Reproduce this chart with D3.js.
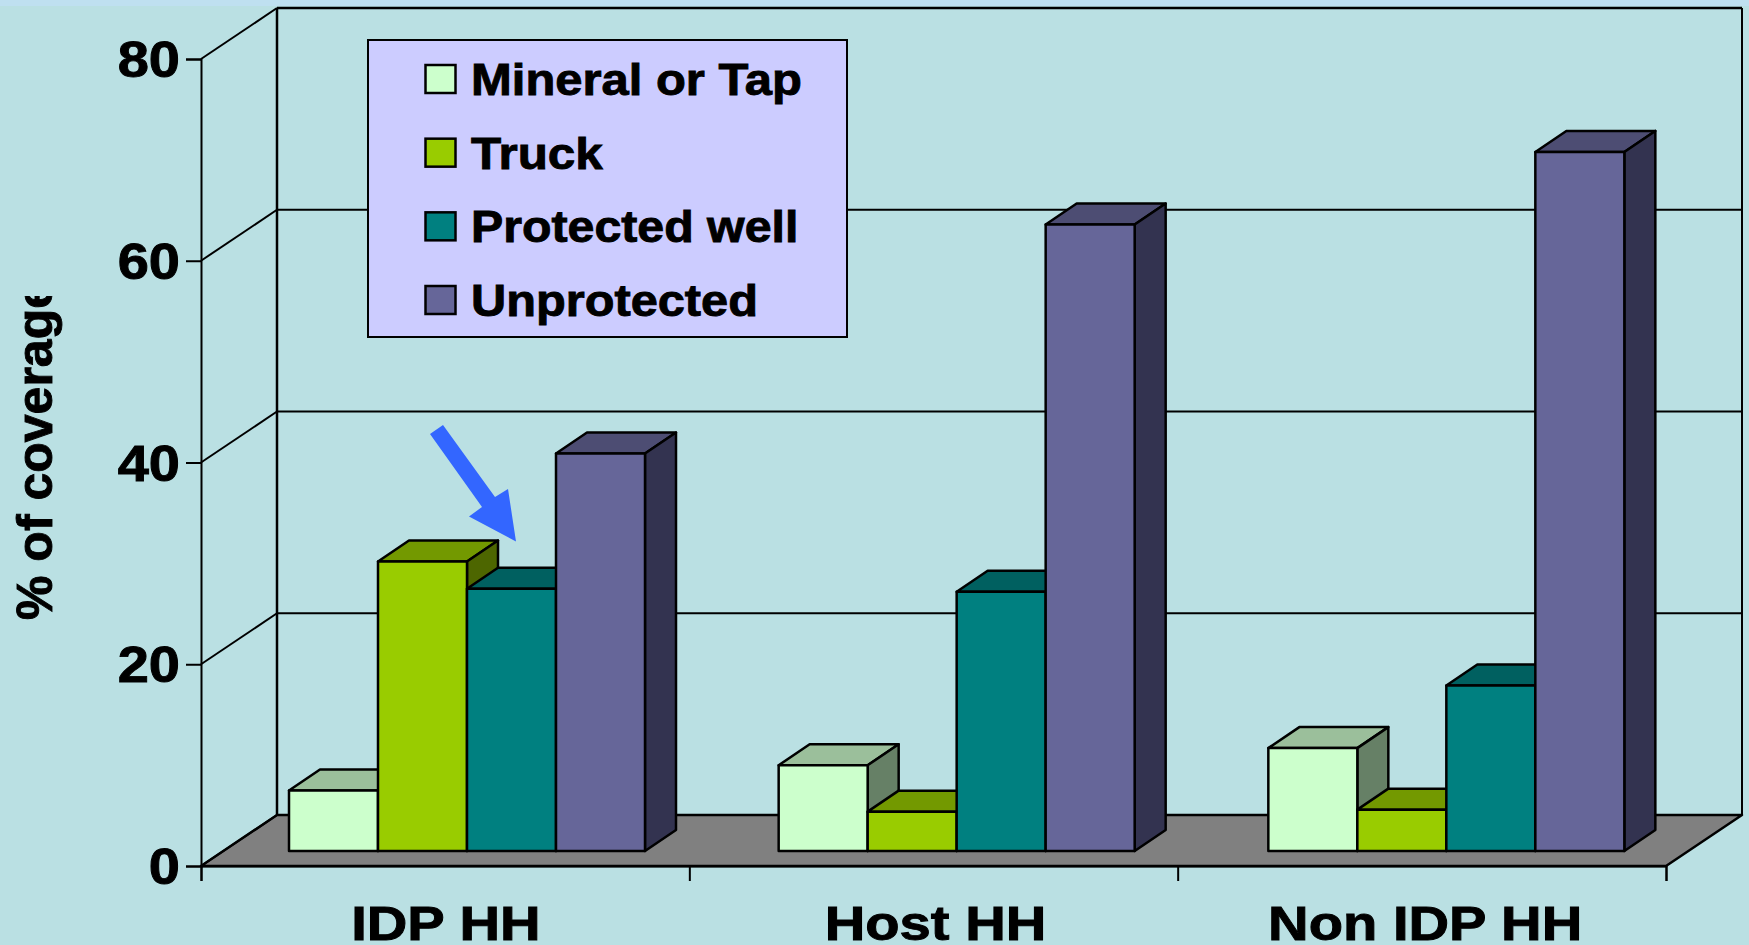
<!DOCTYPE html>
<html><head><meta charset="utf-8">
<script src="https://cdn.jsdelivr.net/npm/d3@7/dist/d3.min.js"></script>
<style>html,body{margin:0;padding:0;background:#BAE0E3;overflow:hidden}
svg{display:block}text{font-family:"Liberation Sans",Arial,sans-serif;font-weight:bold;fill:#000;stroke:#000;stroke-width:.9px}</style>
</head><body><div id="chart"></div>
<script>
const categories = ["IDP HH","Host HH","Non IDP HH"];
const seriesNames = ["Mineral or Tap","Truck","Protected well","Unprotected"];
const mineral = [6,8.5,10.2];
const truck = [28.7,3.9,4.1];
const protectedWell = [26,25.7,16.4];
const unprotected = [39.4,62.1,69.3];
const seriesValues = [mineral,truck,protectedWell,unprotected];
const yTicks = [0,20,40,60,80];
const front = ["#CCFFCC","#99CC00","#008080","#666699"];
const topFace = ["#9BBF9B","#739900","#006060","#4D4D73"];
const sideFace = ["#668066","#4D6600","#004D4D","#333350"];
const legendStretch = [1.1,1.11,1.085,1.095];

const W=1749,H=945;
const svg=d3.select("#chart").append("svg").attr("width",W).attr("height",H);
svg.append("rect").attr("width",W).attr("height",H).attr("fill","#BAE0E3");
svg.append("rect").attr("width",W).attr("height",6).attr("fill","#BFE0F0");

const depth={x:76,y:-51}, barDepth={x:31,y:-21}, barInset={x:23.5,y:-15};
const x=d3.scaleBand().domain(categories).range([201,1666]);
const xBars=d3.scaleBand().domain(categories).range([201,1670]);
const y=d3.scaleLinear().domain([0,80]).range([866,59]);
const inner=d3.scaleBand().domain(d3.range(4)).range([64.5,64.5+356]);
const ln=(g,x1,y1,x2,y2,w=2)=>g.append("line").attr("x1",x1).attr("y1",y1).attr("x2",x2).attr("y2",y2).attr("stroke","#000").attr("stroke-width",w);
const path=(g,pts,fill,w=2.5)=>g.append("path").attr("d",d3.line()(pts)+"Z").attr("fill",fill).attr("stroke","#000").attr("stroke-width",w).attr("stroke-linejoin","round");
const stretch=(sel,k)=>sel.each(function(){
  const len=this.getComputedTextLength();
  d3.select(this).attr("textLength",len*k).attr("lengthAdjust","spacingAndGlyphs");
});

// walls and floor
const x0=x.range()[0],x1=x.range()[1];
const wall=svg.append("g");
path(wall,[[x0,y(0)],[x0+depth.x,y(0)+depth.y],[x1+depth.x,y(0)+depth.y],[x1,y(0)]],"#808080");
yTicks.forEach(t=>{
  ln(wall,x0,y(t),x0+depth.x,y(t)+depth.y);
  ln(wall,x0+depth.x,y(t)+depth.y,x1+depth.x,y(t)+depth.y);
});
ln(wall,x0+depth.x,y(80)+depth.y,x0+depth.x,y(0)+depth.y,2.5);
ln(wall,x1+depth.x,y(80)+depth.y,x1+depth.x,y(0)+depth.y,2);
ln(wall,x0+depth.x,y(80)+depth.y,x1+depth.x,y(80)+depth.y,2.5);

// axes
const yAxis=d3.axisLeft(y).tickValues(yTicks).tickSize(15).tickPadding(6);
const yG=svg.append("g").attr("transform",`translate(${x0},0)`).call(yAxis);
const xAxis=d3.axisBottom(d3.scaleLinear().domain([0,3]).range([x0,x1])).ticks(3).tickSize(15).tickFormat("");
const xG=svg.append("g").attr("transform",`translate(0,${y(0)})`).call(xAxis);
[yG,xG].forEach(g=>{g.selectAll("path").attr("stroke","#000").attr("stroke-width",2);g.selectAll("line").attr("stroke","#000").attr("stroke-width",2);});
yG.selectAll("text").style("font-size","50px").attr("dy","0.35em").call(stretch,1.12);
svg.append("g").selectAll("text").data(categories).join("text")
  .attr("x",d=>xBars(d)+xBars.bandwidth()/2).attr("y",940).attr("text-anchor","middle").style("font-size","48px").text(d=>d).call(stretch,1.17);

// bars
const bars=svg.append("g");
categories.forEach((c,ci)=>{
  seriesValues.forEach((vals,si)=>{
    const bx=xBars(c)+inner(si)+barInset.x, bw=inner.bandwidth();
    const by=y(vals[ci])+barInset.y, b0=y(0)+barInset.y;
    const g=bars.append("g");
    path(g,[[bx,by],[bx+barDepth.x,by+barDepth.y],[bx+bw+barDepth.x,by+barDepth.y],[bx+bw,by]],topFace[si]);
    path(g,[[bx+bw,by],[bx+bw+barDepth.x,by+barDepth.y],[bx+bw+barDepth.x,b0+barDepth.y],[bx+bw,b0]],sideFace[si]);
    path(g,[[bx,by],[bx+bw,by],[bx+bw,b0],[bx,b0]],front[si]);
  });
});

// legend
const lg=svg.append("g");
lg.append("rect").attr("x",368).attr("y",40).attr("width",479).attr("height",297).attr("fill","#CCCCFF").attr("stroke","#000").attr("stroke-width",2);
const ly=d3.scalePoint().domain(seriesNames).range([79,300]);
seriesNames.forEach((n,i)=>{
  lg.append("rect").attr("x",425.5).attr("y",ly(n)-14).attr("width",30).attr("height",28).attr("fill",front[i]).attr("stroke","#000").attr("stroke-width",2.5);
  lg.append("text").attr("x",471).attr("y",ly(n)+16).style("font-size","44.5px").text(n).call(stretch,legendStretch[i]);
});

// annotation arrow
svg.append("path").attr("d",d3.line()([[430,434],[443,425],[495,497],[508,489],[516,541.5],[469,516.4],[482,507]])+"Z").attr("fill","#3366FF");

// y title, clipped at its top end as in the source
svg.append("clipPath").attr("id","tc").append("rect").attr("x",0).attr("y",296).attr("width",100).attr("height",400);
svg.append("g").attr("clip-path","url(#tc)").append("text")
  .attr("transform","translate(52,620) rotate(-90)").style("font-size","50px").text("% of coverage");
</script></body></html>
